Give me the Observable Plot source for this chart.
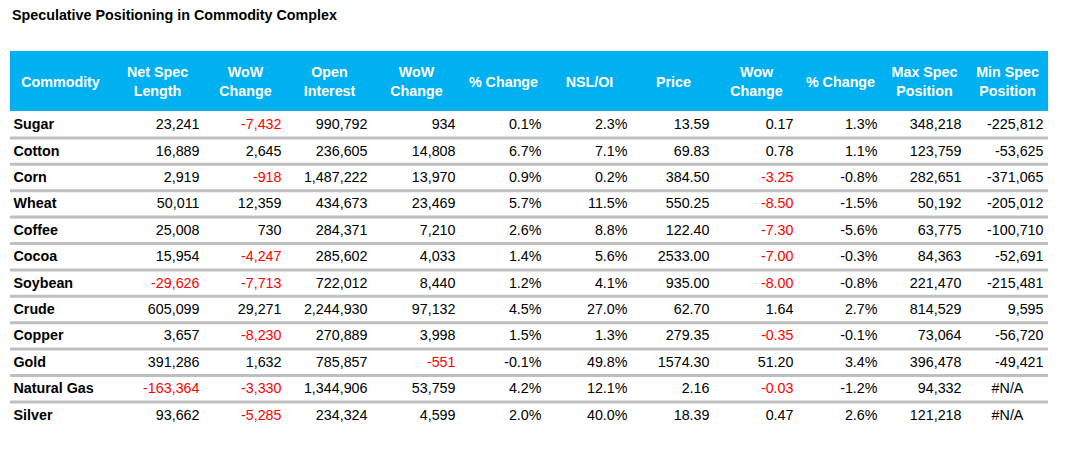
<!DOCTYPE html>
<html><head><meta charset="utf-8">
<script src="https://cdn.jsdelivr.net/npm/d3@7"></script>
<script src="https://cdn.jsdelivr.net/npm/@observablehq/plot@0.6"></script>
<style>
html,body{margin:0;padding:0;background:#fff;}
body{font-family:"Liberation Sans",Arial,sans-serif;}
#title{height:30px;line-height:30px;padding-left:12px;font-weight:bold;font-size:14.3px;color:#000;}
#chart svg{display:block;}
</style></head><body>
<div id="title">Speculative Positioning in Commodity Complex</div>
<div id="chart"></div>
<script>
// ---- data ----
const commodities = ["Sugar","Cotton","Corn","Wheat","Coffee","Cocoa","Soybean","Crude","Copper","Gold","Natural Gas","Silver"];
const netSpecLength = [23241,16889,2919,50011,25008,15954,-29626,605099,3657,391286,-163364,93662];
const netSpecWoW = [-7432,2645,-918,12359,730,-4247,-7713,29271,-8230,1632,-3330,-5285];
const openInterest = [990792,236605,1487222,434673,284371,285602,722012,2244930,270889,785857,1344906,234324];
const openInterestWoW = [934,14808,13970,23469,7210,4033,8440,97132,3998,-551,53759,4599];
const openInterestPct = [0.1,6.7,0.9,5.7,2.6,1.4,1.2,4.5,1.5,-0.1,4.2,2.0];
const nslOi = [2.3,7.1,0.2,11.5,8.8,5.6,4.1,27.0,1.3,49.8,12.1,40.0];
const price = [13.59,69.83,384.50,550.25,122.40,2533.00,935.00,62.70,279.35,1574.30,2.16,18.39];
const priceWoW = [0.17,0.78,-3.25,-8.50,-7.30,-7.00,-8.00,1.64,-0.35,51.20,-0.03,0.47];
const pricePct = [1.3,1.1,-0.8,-1.5,-5.6,-0.3,-0.8,2.7,-0.1,3.4,-1.2,2.6];
const maxSpecPosition = [348218,123759,282651,50192,63775,84363,221470,814529,73064,396478,94332,121218];
const minSpecPosition = [-225812,-53625,-371065,-205012,-100710,-52691,-215481,9595,-56720,-49421,null,null];
const headerLabels = ["Commodity","Net Spec\nLength","WoW\nChange","Open\nInterest","WoW\nChange","% Change","NSL/OI","Price","Wow\nChange","% Change","Max Spec\nPosition","Min Spec\nPosition"];

// ---- layout / formatting ----
const loc = d3.formatLocale({decimal:".", thousands:",", grouping:[3], currency:["$",""], minus:"-"});
const fInt = loc.format(",.0f"), fDec = loc.format(".2f"), fPct = v => loc.format(".1f")(v) + "%";
const columns = [
  {values: netSpecLength, fmt: fInt, red: true},
  {values: netSpecWoW, fmt: fInt, red: true},
  {values: openInterest, fmt: fInt},
  {values: openInterestWoW, fmt: fInt, red: true},
  {values: openInterestPct, fmt: fPct},
  {values: nslOi, fmt: fPct},
  {values: price, fmt: fDec},
  {values: priceWoW, fmt: fDec, red: true},
  {values: pricePct, fmt: fPct},
  {values: maxSpecPosition, fmt: fInt},
  {values: minSpecPosition, fmt: fInt}
];
const colWidths = [100,94,82,86,88,86,86,82,84,84,84,82];
const edges = [0, ...d3.cumsum(colWidths)];
const tableW = edges[edges.length - 1];
const rowH = 26.4, headerH = 60, nRows = commodities.length;
const headers = headerLabels.map((label, i) => ({label, center: (edges[i] + edges[i+1]) / 2}));

const names = commodities.map((c, r) => ({row: r + 0.5, text: c}));
const values = [], missing = [];
commodities.forEach((c, r) => {
  columns.forEach((col, j) => {
    const i = j + 1, v = col.values[r];
    if (v == null) missing.push({row: r + 0.5, x: (edges[i] + edges[i+1]) / 2, text: "#N/A"});
    else values.push({row: r + 0.5, x: edges[i+1] - 5, text: col.fmt(v), fill: (col.red && v < 0) ? "#ff0000" : "#000"});
  });
});

const svgHeight = 435, tableTop = 81;
const chart = Plot.plot({
  width: 1072,
  height: svgHeight,
  marginLeft: 10,
  marginRight: 1072 - 10 - tableW,
  marginTop: tableTop,
  marginBottom: svgHeight - tableTop - nRows * rowH,
  x: {domain: [0, tableW], axis: null},
  y: {domain: [0, nRows], reverse: true, axis: null},
  style: {fontFamily: "'Liberation Sans', Arial, sans-serif", fontSize: "14.3px", background: "#fff", color: "#000"},
  marks: [
    Plot.rect([0], {x1: 0, x2: tableW, y1: -headerH / rowH, y2: 0, fill: "#00b0f0"}),
    Plot.text(headers, {x: "center", y: -headerH / rowH / 2, text: "label", fill: "#fff", fontWeight: "bold", lineHeight: 1.33, dy: -1, textAnchor: "middle"}),
    Plot.ruleY(d3.range(1, nRows), {x1: 0, x2: tableW, stroke: "#bfbfbf", strokeWidth: 3}),
    Plot.text(names, {x: edges[0] + 3, y: "row", text: "text", textAnchor: "start", fill: "#000", fontWeight: "bold"}),
    Plot.text(values, {x: "x", y: "row", text: "text", textAnchor: "end", fill: "fill"}),
    Plot.text(missing, {x: "x", y: "row", text: "text", textAnchor: "middle", fill: "#000"})
  ]
});
document.getElementById("chart").appendChild(chart);
</script>
</body></html>
